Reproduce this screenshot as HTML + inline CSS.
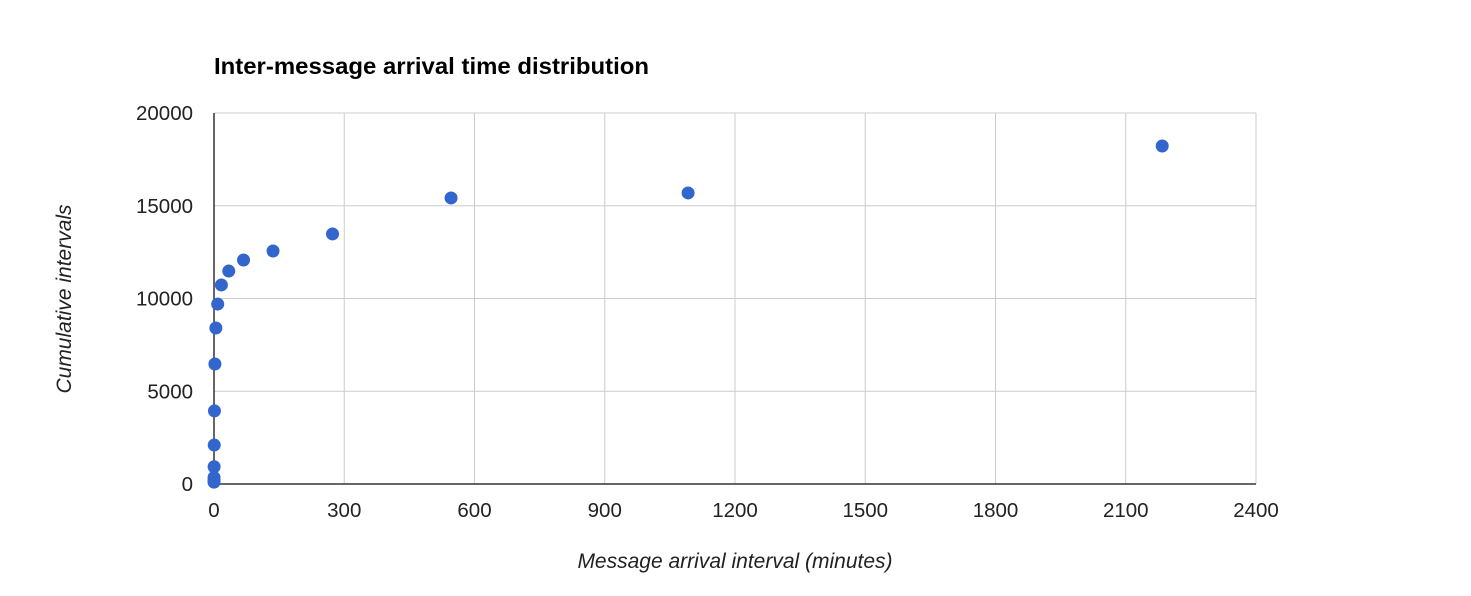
<!DOCTYPE html>
<html><head><meta charset="utf-8"><style>
body{margin:0;background:#fff;font-family:"Liberation Sans",sans-serif}
svg{display:block}
</style></head><body>
<svg id="c" width="1471" height="596">
<text x="214" y="74" font-size="23.5" font-weight="bold" fill="#000" textLength="435" lengthAdjust="spacingAndGlyphs">Inter-message arrival time distribution</text>
<text x="0" y="0" transform="translate(71,299) rotate(-90)" text-anchor="middle" font-size="21" font-style="italic" fill="#222">Cumulative intervals</text>
<text x="735" y="568" text-anchor="middle" font-size="21" font-style="italic" fill="#222">Message arrival interval (minutes)</text>
<g id="grid"></g><g id="pts"></g>
</svg>
<script>
const xTicks=[0,300,600,900,1200,1500,1800,2100,2400];
const yTicks=[0,5000,10000,15000,20000];
const xVals=[0.05,0.1,0.13,0.27,0.53,1.07,2.1,4.3,8.5,17,34,68,136,273,546,1092,2184];
const yVals=[100,200,350,930,2100,3940,6470,8410,9700,10730,11480,12075,12560,13480,15420,15690,18220];
const x0=214,x1=1256,y0=484,y1=113;
const sx=v=>x0+(v/2400)*(x1-x0), sy=v=>y0-(v/20000)*(y0-y1);
const NS="http://www.w3.org/2000/svg";
const g=document.getElementById('grid'),p=document.getElementById('pts');
function mk(t,a,par){const e=document.createElementNS(NS,t);for(const k in a)e.setAttribute(k,a[k]);par.appendChild(e);return e;}
xTicks.forEach(t=>{
 if(t>0){const l=mk('line',{x1:sx(t),x2:sx(t),y1:y1,y2:y0,stroke:'#ccc'},g);
 
 }
 const tx=mk('text',{x:sx(t),y:517,'text-anchor':'middle','font-size':20.5,fill:'#222'},g);tx.textContent=t;
 
 
});
yTicks.forEach(t=>{
 if(t>0){const l=mk('line',{x1:x0,x2:x1,y1:sy(t),y2:sy(t),stroke:'#ccc'},g);
 
 }
 const tx=mk('text',{x:193,y:sy(t)+7,'text-anchor':'end','font-size':20.5,fill:'#222'},g);tx.textContent=t;
 
 
});
const ax=mk('line',{x1:x0,x2:x1,y1:y0,y2:y0,stroke:'#333','stroke-width':1.5},g);


const ay=mk('line',{x1:x0,x2:x0,y1:y1,y2:y0,stroke:'#333','stroke-width':1.5},g);


yVals.forEach((v,i)=>{
 const c=mk('circle',{cx:sx(xVals[i]),cy:sy(v),r:6.5,fill:'#3366cc'},p);
 
 
});
</script>
</body></html>
